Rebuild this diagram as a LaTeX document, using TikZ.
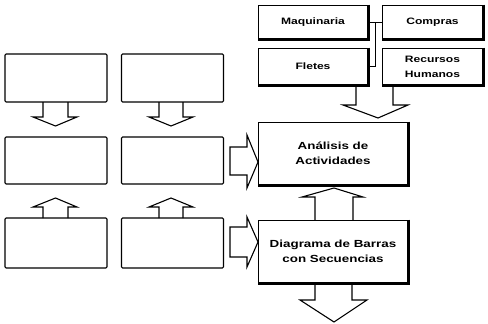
\documentclass[tikz,border=0pt]{standalone}
\usepackage{fontspec}
\newfontfamily\labfont{Liberation Sans}[FakeStretch=1.3]
\usetikzlibrary{calc}
\tikzset{
  plainbox/.style={draw, line width=1.1pt, rounded corners=1.2pt, minimum width=102pt, minimum height=48pt, inner sep=0pt},
  rbox/.style={draw, line width=0.7pt, align=center, inner sep=0pt,
    font=\labfont\bfseries\fontsize{9.3}{15}\selectfont},
  bigtext/.style={font=\labfont\bfseries\fontsize{10.3}{15.5}\selectfont},
  blockarrow/.style={draw, line width=1.1pt, line join=miter},
  shade/.style={line width=2.4pt},
  link/.style={line width=0.9pt}
}
\begin{document}
\begin{tikzpicture}[x=1pt,y=-1pt]
\useasboundingbox (0,0) rectangle (488,324);
% left grid of empty boxes
\node[plainbox] (a1) at (56,78) {};
\node[plainbox] (b1) at (172.5,78) {};
\node[plainbox, minimum height=47pt] (a2) at (56,160.5) {};
\node[plainbox, minimum height=47pt] (b2) at (172.5,160.5) {};
\node[plainbox, minimum height=50pt] (a3) at (56,243) {};
\node[plainbox, minimum height=50pt] (b3) at (172.5,243) {};
% right column
\node[rbox, minimum width=110pt, minimum height=34pt] (maq) at (313,22) {Maquinaria};
\node[rbox, minimum width=101pt, minimum height=34pt] (com) at (432.5,22) {Compras};
\node[rbox, minimum width=110pt, minimum height=37pt] (fle) at (313,66.5) {Fletes};
\node[rbox, minimum width=101pt, minimum height=37pt] (rec) at (432.5,66.5) {Recursos\\Humanos};
\node[rbox, bigtext, minimum width=150pt, minimum height=63pt] (ana) at (333,153.5) {Análisis de\\Actividades};
\node[rbox, bigtext, minimum width=150pt, minimum height=63pt] (dia) at (333,251.5) {Diagrama de Barras\\con Secuencias};
\foreach \n in {maq,com,fle,rec,ana,dia}{
  \draw[shade] (\n.north east) -- (\n.south east) -- (\n.south west);
}
% bracket linking the four top boxes
\coordinate (jt) at ($(maq.east)!0.5!(com.west)$);
\draw[link] (maq.east) -- (com.west);
\draw[link] (jt) |- (fle.east);
% down arrows, left grid
\draw[blockarrow] (43,102) -- (43,117) -- (33,117) -- (55.5,126) -- (77,117) -- (68,117) -- (68,102);
\draw[blockarrow] (159,102) -- (159,117) -- (149,117) -- (171,126) -- (193,117) -- (183,117) -- (183,102);
% up arrows, left grid
\draw[blockarrow] (43,218) -- (43,207) -- (33,207) -- (55.5,198) -- (77,207) -- (68,207) -- (68,218);
\draw[blockarrow] (159,218) -- (159,207) -- (149,207) -- (171,198) -- (193,207) -- (183,207) -- (183,218);
% right arrows into the right column
\draw[blockarrow] (230,147) -- (247,147) -- (247,135) -- (258,162) -- (247,188) -- (247,175) -- (230,175) -- cycle;
\draw[blockarrow] (230,227) -- (247,227) -- (247,217) -- (258,242) -- (247,267) -- (247,257) -- (230,257) -- cycle;
% down arrow from top boxes to Analisis
\draw[blockarrow] (356,86) -- (356,105) -- (343,105) -- (378,118) -- (408,105) -- (393,105) -- (393,86);
% up arrow Diagrama -> Analisis
\draw[blockarrow] (315,220) -- (315,197) -- (302,197) -- (334,188) -- (363,197) -- (353,197) -- (353,220);
% bottom down arrow
\draw[blockarrow] (315,284) -- (315,300) -- (300,300) -- (334,322) -- (367,300) -- (352,300) -- (352,284);
\end{tikzpicture}
\end{document}
